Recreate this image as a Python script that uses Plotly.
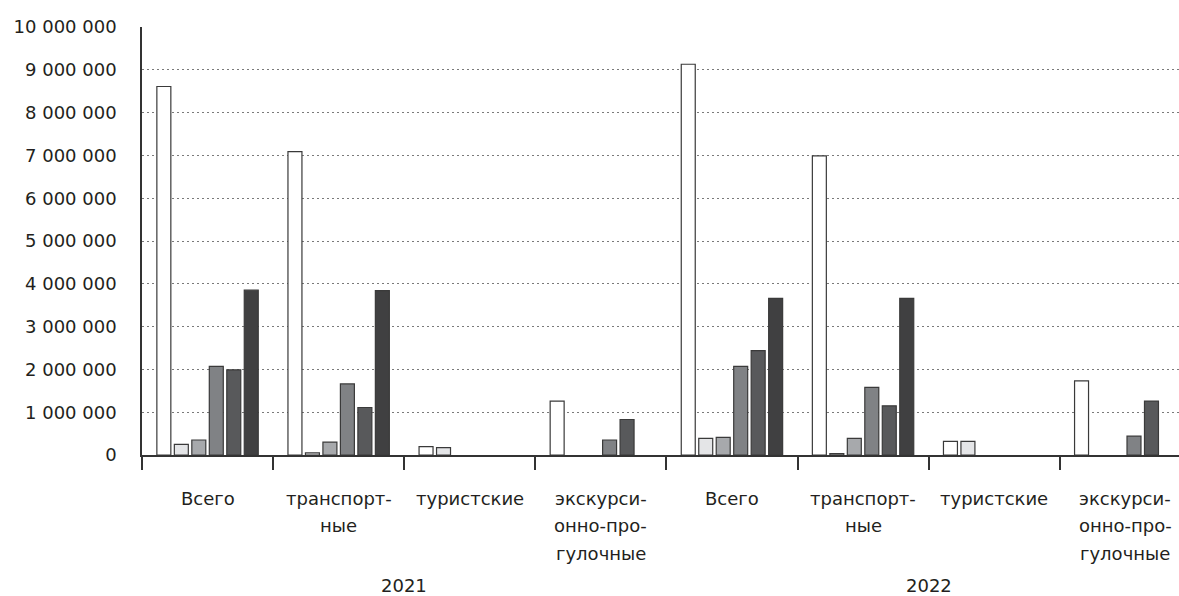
import plotly.graph_objects as go

years = ["2021", "2022"]
categories = ["Всего", "транспорт-\nные", "туристские", "экскурси-\nонно-про-\nгулочные"]
group_labels = categories + categories

series_names = ["Ряд 1", "Ряд 2", "Ряд 3", "Ряд 4", "Ряд 5", "Ряд 6"]
# None = no bar in the reference
s1 = [8610000, 7090000, 195000, 1260000, 9130000, 6990000, 320000, 1730000]
s2 = [250000, 50000, 170000, None, 390000, 30000, 320000, None]
s3 = [350000, 300000, None, None, 410000, 390000, None, None]
s4 = [2070000, 1660000, None, 350000, 2070000, 1580000, None, 440000]
s5 = [1990000, 1110000, None, 830000, 2440000, 1150000, None, 1260000]
s6 = [3850000, 3840000, None, None, 3660000, 3660000, None, None]
series = [s1, s2, s3, s4, s5, s6]
colors = ["#ffffff", "#e4e5e7", "#a7a9ac", "#808285", "#58595b", "#404041"]

y_ticks = [0, 1000000, 2000000, 3000000, 4000000, 5000000, 6000000, 7000000, 8000000, 9000000, 10000000]

xs = list(range(len(group_labels)))
fig = go.Figure()
for name, vals, col in zip(series_names, series, colors):
    fig.add_trace(go.Bar(
        x=xs, y=vals, name=name,
        marker=dict(color=col, line=dict(color="#3a3a3a", width=1.2)),
    ))

FONT = "DejaVu Sans"
TXT = "#231f20"
annotations = []
for i, lab in enumerate(group_labels):
    for j, line in enumerate(lab.split("\n")):
        annotations.append(dict(
            x=i, y=0, xref="x", yref="paper", text=line, showarrow=False,
            xanchor="center", yanchor="middle", yshift=-43 - 27.5 * j,
            font=dict(family=FONT, size=18, color=TXT),
        ))
for k, yr in enumerate(years):
    annotations.append(dict(
        x=1.5 + 4 * k, y=0, xref="x", yref="paper", text=yr, showarrow=False,
        xanchor="center", yanchor="middle", yshift=-130,
        font=dict(family=FONT, size=18, color=TXT),
    ))

fig.update_layout(
    width=1179, height=596,
    margin=dict(l=142, r=0, t=27, b=141),
    paper_bgcolor="white", plot_bgcolor="white",
    barmode="group", bargap=0.2, bargroupgap=0.2,
    showlegend=False,
    separators=", ",
    annotations=annotations,
    font=dict(family=FONT, color=TXT),
)
fig.update_xaxes(
    range=[-0.5, 7.41], showgrid=False, zeroline=False,
    showline=True, linecolor="#333333", linewidth=1.5,
    tickmode="array", tickvals=[i - 0.5 for i in range(len(group_labels) + 1)],
    ticktext=["" for _ in range(len(group_labels) + 1)],
    ticks="outside", ticklen=13, tickwidth=1.5, tickcolor="#333333",
)
fig.update_yaxes(
    range=[0, 10000000], tickmode="array", tickvals=y_ticks,
    tickformat=",d",
    showgrid=True, gridcolor="#7a7a7a", gridwidth=1, griddash="2px,3px",
    zeroline=False, showline=True, linecolor="#333333", linewidth=1.5,
    ticks="", ticklabelstandoff=20,
    tickfont=dict(family=FONT, size=18, color=TXT),
)

fig.write_html("out.html", config={"displayModeBar": False},
               post_script="document.body.style.margin='0';document.body.style.padding='0';")
